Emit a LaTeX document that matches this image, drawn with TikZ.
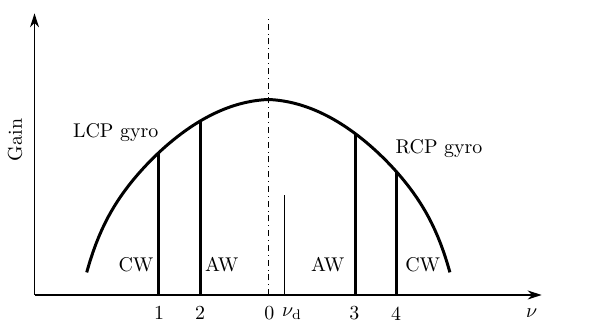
\documentclass[tikz,border=0pt]{standalone}
\usetikzlibrary{arrows.meta}
\begin{document}
\begin{tikzpicture}[axis/.style={-{Stealth[length=7pt,width=4.5pt]},semithick},
        gyro/.style={line width=1.5pt},
        mode/.style={line width=1.5pt},
        declare function={gain(\u)=3.45-0.23*\u*\u-0.04*abs(\u)-0.55*(abs(\u)/3.2)^12;}]
        \useasboundingbox (-0.609,-0.494) rectangle (9.891,5.206);

        % axes
        \coordinate (o) at (0,0);
        \coordinate (ytop) at (0,4.97);
        \coordinate (xend) at (8.95,0);
        \draw[axis] (o) -- (ytop);
        \draw[axis] (o) -- (xend);
        \node[rotate=90] (gain) at (-0.344,2.735) {Gain};
        \node (nu) at (8.774,-0.323) {\(\nu\)};

        % line center and nu_d
        \coordinate (c0) at (4.126,0);
        \coordinate (ctop) at (4.126,4.94);
        \draw[thin,dash dot] (c0) -- (ctop);
        \coordinate (d0) at (4.403,0);
        \coordinate (dtop) at (4.403,1.765);
        \draw[thin] (d0) -- (dtop);
        \node (t0) at (4.143,-0.323) {0};
        \node (td) at (4.544,-0.323) {\(\nu_{\mathrm{d}}\)};

        % gain curve
        \draw[gyro] plot[domain=-3.205:3.205, samples=120] ({4.126+\x},{gain(\x)});
        \node (lcp) at (1.433,2.864) {LCP gyro};
        \node (rcp) at (7.138,2.576) {RCP gyro};

        % modes
        \foreach \n/\x in {1/2.188, 2/2.921, 3/5.656, 4/6.388}{
            \coordinate (m\n) at (\x,0);
            \coordinate (m\n top) at (\x,{gain(\x-4.126)});
            \draw[mode] (m\n) -- (m\n top);
        }
        \node (t1) at (2.197,-0.323) {1};
        \node (t2) at (2.921,-0.323) {2};
        \node (t3) at (5.644,-0.323) {3};
        \node (t4) at (6.379,-0.323) {4};
        \node (cwl) at (1.791,0.529) {CW};
        \node (awl) at (3.304,0.529) {AW};
        \node (awr) at (5.174,0.529) {AW};
        \node (cwr) at (6.851,0.529) {CW};
    \end{tikzpicture}
\end{document}
